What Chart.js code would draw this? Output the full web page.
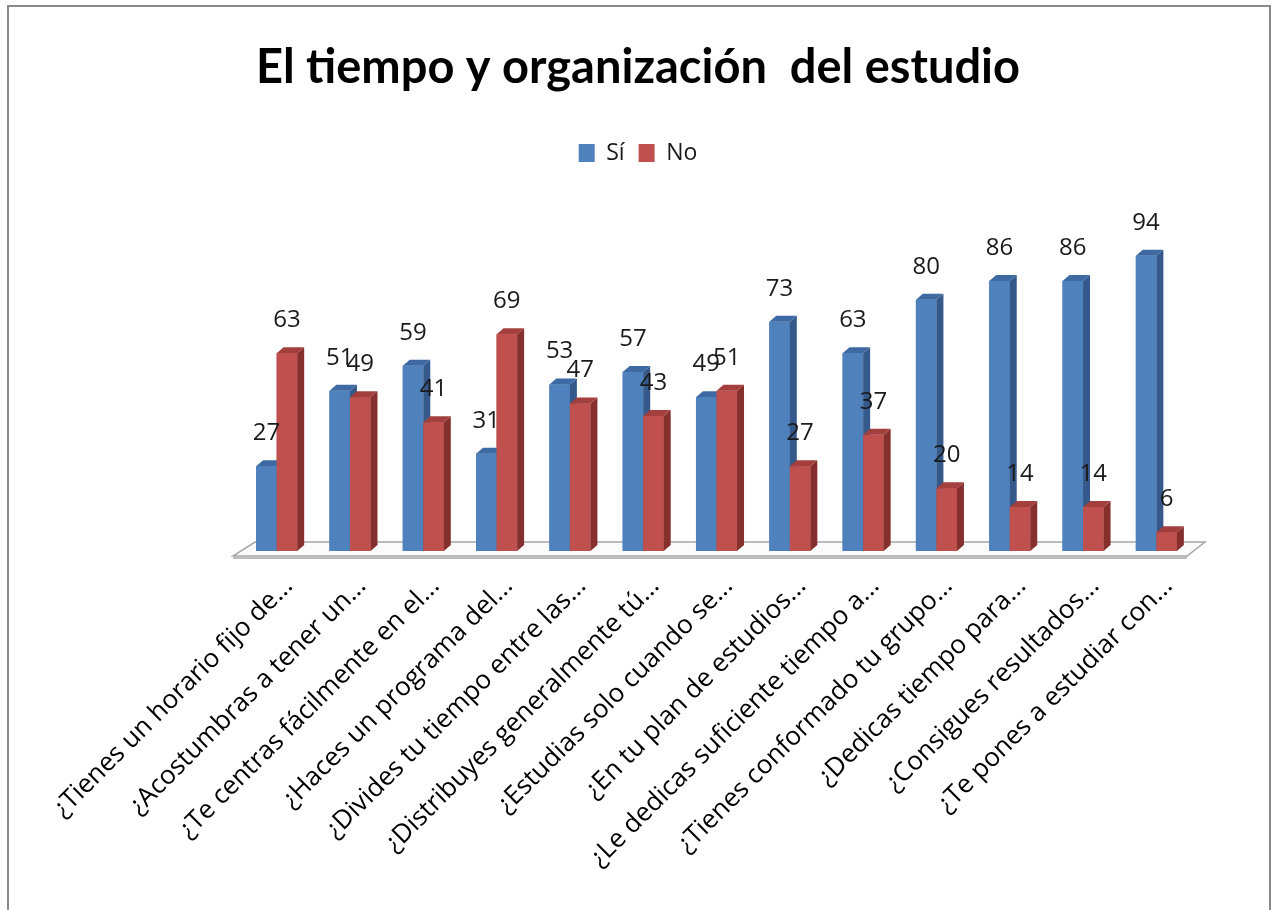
<!DOCTYPE html>
<html lang="es">
<head>
<meta charset="utf-8">
<title>El tiempo y organización del estudio</title>
<script src="https://cdn.jsdelivr.net/npm/chart.js@4.4.1/dist/chart.umd.min.js"></script>
<style>
  html, body { margin: 0; padding: 0; background: #fff; }
  #wrap { position: relative; width: 1276px; height: 910px; }
</style>
</head>
<body>
<div id="wrap"><canvas id="chart"></canvas></div>
<script>
  // Data
  const categories = [
    "¿Tienes un horario fijo de...",
    "¿Acostumbras a tener un...",
    "¿Te centras fácilmente en el...",
    "¿Haces un programa del...",
    "¿Divides tu tiempo entre las...",
    "¿Distribuyes generalmente tú...",
    "¿Estudias solo cuando se...",
    "¿En tu plan de estudios...",
    "¿Le dedicas suficiente tiempo a...",
    "¿Tienes conformado tu grupo...",
    "¿Dedicas tiempo para...",
    "¿Consigues resultados...",
    "¿Te pones a estudiar con..."
  ];
  const seriesNames = ["Sí", "No"];
  const siValues = [27, 51, 59, 31, 53, 57, 49, 73, 63, 80, 86, 86, 94];
  const noValues = [63, 49, 41, 69, 47, 43, 51, 27, 37, 20, 14, 14, 6];
  const yMax = 100;

  const chartTitle = "El tiempo y organización  del estudio";
  const baseFont = "'Open Sans', 'Noto Sans', sans-serif";

  // colours for the front, side and top faces of the 3D columns
  const faces = [
    { front: "#4F81BD", side: "#34598A", top: "#3D6AA2" },
    { front: "#C0504D", side: "#86302E", top: "#A3403D" }
  ];
  const DX = 7, DY = 6;

  // border, floor, 3D columns and value labels
  const excel3d = {
    id: "excel3d",
    beforeDraw(chart) {
      const ctx = chart.ctx;
      ctx.save();
      ctx.strokeStyle = "#8a8a8a";
      ctx.lineWidth = 2;
      ctx.strokeRect(8, 6, 1262, 940);
      ctx.restore();
    },
    beforeDatasetsDraw(chart) {
      const ctx = chart.ctx;
      const a = chart.chartArea;
      const y0 = chart.scales.y.getPixelForValue(0);
      ctx.save();
      ctx.beginPath();
      ctx.moveTo(a.left - 7, y0 + 5);
      ctx.lineTo(a.right - 6, y0 + 5);
      ctx.lineTo(a.right + 12, y0 - 9);
      ctx.lineTo(a.left + 15, y0 - 9);
      ctx.closePath();
      ctx.fillStyle = "#fbfbfb";
      ctx.fill();
      ctx.strokeStyle = "#a6a6a6";
      ctx.lineWidth = 1.5;
      ctx.stroke();
      ctx.fillStyle = "#bdbdbd";
      ctx.fillRect(a.left - 7, y0 + 5, a.right - a.left + 1, 3);
      ctx.restore();
    },
    afterDatasetsDraw(chart) {
      const ctx = chart.ctx;
      ctx.save();
      // redraw each column left to right so the faces overlap like in Excel
      chart.data.labels.forEach((_, j) => {
        chart.data.datasets.forEach((ds, i) => {
          const f = faces[i];
          const p = chart.getDatasetMeta(i).data[j].getProps(["x", "y", "base", "width"], true);
          const l = p.x - p.width / 2, r = p.x + p.width / 2;
          ctx.fillStyle = f.front;
          ctx.fillRect(l, p.y, p.width, p.base - p.y);
          ctx.fillStyle = f.side;
          ctx.beginPath();
          ctx.moveTo(r, p.y);
          ctx.lineTo(r + DX, p.y - DY);
          ctx.lineTo(r + DX, p.base - DY);
          ctx.lineTo(r, p.base);
          ctx.closePath();
          ctx.fill();
          ctx.fillStyle = f.top;
          ctx.beginPath();
          ctx.moveTo(l, p.y);
          ctx.lineTo(l + DX, p.y - DY);
          ctx.lineTo(r + DX, p.y - DY);
          ctx.lineTo(r, p.y);
          ctx.closePath();
          ctx.fill();
        });
      });
      ctx.font = "24px " + baseFont;
      ctx.fillStyle = "#1a1a1a";
      ctx.textAlign = "center";
      ctx.textBaseline = "middle";
      chart.data.datasets.forEach((ds, i) => {
        chart.getDatasetMeta(i).data.forEach((bar, j) => {
          ctx.fillText(String(ds.data[j]), bar.x, bar.y - 33);
        });
      });
      ctx.restore();
    }
  };

  // extra room under the legend so the plot starts lower
  const legendRoom = {
    id: "legendRoom",
    beforeInit(chart) {
      const fit = chart.legend.fit;
      chart.legend.fit = function() {
        fit.call(this);
        this.height = 109.5;
      };
    }
  };

  new Chart(document.getElementById("chart"), {
    type: "bar",
    data: {
      labels: categories,
      datasets: [
        { label: seriesNames[0], data: siValues, backgroundColor: faces[0].front },
        { label: seriesNames[1], data: noValues, backgroundColor: faces[1].front }
      ]
    },
    options: {
      responsive: true,
      maintainAspectRatio: false,
      animation: false,
      layout: { padding: 0 },
      datasets: { bar: { categoryPercentage: 0.56, barPercentage: 1.0 } },
      plugins: {
        title: {
          display: true,
          text: chartTitle,
          color: "#000",
          font: { family: "Lato, " + baseFont, size: 47, weight: "bold" },
          padding: { top: 40, bottom: 31.1 }
        },
        legend: {
          position: "top",
          labels: {
            boxWidth: 16,
            boxHeight: 18,
            color: "#1a1a1a",
            font: { family: baseFont, size: 23 },
            padding: 14
          }
        },
        tooltip: { enabled: false }
      },
      scales: {
        x: {
          grid: { display: false },
          border: { display: false },
          ticks: {
            color: "#000",
            font: { family: baseFont, size: 26 },
            minRotation: 45,
            maxRotation: 45,
            autoSkip: false,
            labelOffset: 12,
            padding: 12
          },
          afterFit(axis) { axis.height = 359; }
        },
        y: {
          display: true,
          min: 0,
          max: yMax,
          grid: { display: false },
          border: { display: false },
          ticks: { display: false },
          afterFit(axis) { axis.width = 240; }
        },
        yRight: {
          type: "linear",
          position: "right",
          display: true,
          grid: { display: false },
          border: { display: false },
          ticks: { display: false },
          afterFit(axis) { axis.width = 83; }
        }
      }
    },
    plugins: [excel3d, legendRoom]
  });
</script>
</body>
</html>
